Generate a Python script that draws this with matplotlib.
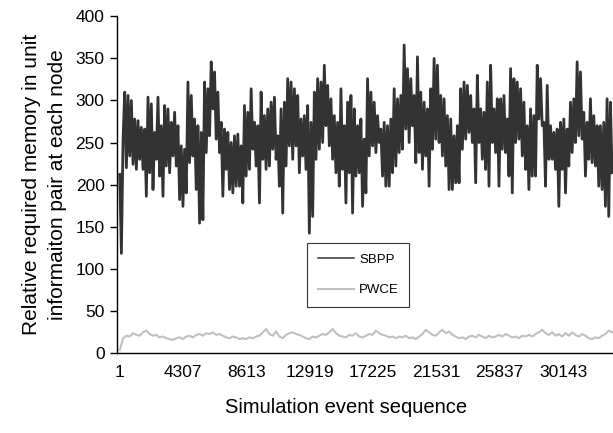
import numpy as np
import matplotlib
matplotlib.use("Agg")
import matplotlib.pyplot as plt

plt.rcParams['font.family'] = ['Liberation Sans', 'DejaVu Sans']

# event count shown on the x axis (category axis like excel)
n_events = 33480
tick_events = [1, 4307, 8613, 12919, 17225, 21531, 25837, 30143]
tick_labels = [str(t) for t in tick_events]

# SBPP as (high, low) pairs, left to right
sbpp_start = [212, 118, 254]
sbpp_pairs = [
    (310, 220), (306, 234), (300, 224), (278, 218), (276, 230), (268, 218), (266, 186), (304, 214),
    (296, 194), (262, 230), (304, 210), (270, 186), (294, 222), (290, 214), (274, 234), (286, 222),
    (270, 182), (246, 174), (242, 190), (322, 226), (306, 234), (278, 194), (270, 154),
    (262, 158), (322, 238), (314, 258), (346, 290), (334, 254), (310, 238), (274, 186), (266, 218),
    (262, 194), (250, 190), (258, 198), (260, 198), (246, 178), (294, 210), (286, 218), (314, 242),
    (274, 222), (270, 178), (310, 230), (282, 218), (290, 222), (298, 242), (304, 230), (258, 198),
    (290, 166),
    (298, 222), (326, 246), (322, 230), (314, 246), (306, 214), (278, 234), (282, 218), (294, 142),
    (274, 162), (310, 230), (326, 242), (322, 250), (342, 270), (318, 246), (302, 230), (282, 214),
    (274, 198), (314, 218), (270, 178), (298, 214), (306, 166), (290, 210), (270, 214), (278, 174),
    (254, 190),
    (326, 234), (310, 246), (298, 238), (282, 250), (266, 210), (274, 198), (270, 198), (278, 214),
    (314, 222), (302, 238), (306, 242), (366, 266), (338, 250), (326, 270), (306, 226), (352, 238),
    (310, 218), (298, 234), (290, 198), (314, 242), (350, 254), (342, 250), (306, 234), (302, 222),
    (282, 194),
    (278, 194), (258, 202), (270, 202), (314, 242), (322, 254), (318, 262), (306, 250), (290, 202),
    (330, 250), (290, 230), (286, 218), (322, 198), (342, 250), (290, 238), (302, 198), (302, 242),
    (306, 238), (278, 210), (338, 190), (326, 250), (322, 254), (314, 234), (298, 218), (270, 194),
    (290, 210),
    (282, 210), (342, 278), (326, 270), (274, 198), (318, 230), (270, 230), (262, 218), (266, 174),
    (274, 218), (278, 190), (266, 222), (298, 238), (302, 250), (346, 258), (334, 254), (286, 210),
    (274, 230), (302, 226), (282, 222), (270, 198), (270, 194), (274, 174), (302, 162), (298, 214),
]

pwce = [3, 17, 20, 19, 23, 21, 20, 24, 26, 22, 20, 21, 18, 19, 17, 16, 15, 17, 18, 16,
        19, 20, 18, 21, 22, 20, 23, 22, 24, 21, 22, 20, 18, 17, 19, 18, 16, 17, 16, 18,
        17, 19, 20, 24, 28, 22, 20, 25, 19, 17, 21, 23, 24, 22, 21, 19, 17, 16, 19, 18,
        20, 22, 21, 24, 28, 23, 20, 19, 18, 21, 20, 23, 19, 18, 20, 22, 21, 26, 23, 21,
        20, 18, 19, 17, 19, 18, 20, 17, 18, 16, 19, 22, 27, 24, 21, 20, 24, 27, 23, 25,
        21, 19, 17, 18, 16, 19, 20, 18, 21, 19, 17, 20, 18, 19, 21, 19, 22, 20, 18, 19,
        17, 20, 19, 21, 19, 22, 24, 27, 23, 21, 24, 20, 22, 19, 23, 20, 24, 21, 19, 22,
        20, 17, 16, 18, 17, 20, 22, 26, 24]

sbpp = list(sbpp_start)
for hi, lo in sbpp_pairs:
    sbpp += [hi, lo]
sbpp = np.array(sbpp)
pwce = np.array(pwce)

x_sbpp = np.linspace(1, n_events, len(sbpp))
x_pwce = np.linspace(1, n_events, len(pwce))

fig = plt.figure(figsize=(6.13, 4.33), dpi=100)
ax = fig.add_axes([0.1909, 0.1859, 0.8091, 0.776])

ax.plot(x_sbpp, sbpp, color='#333333', lw=2.0, label='SBPP')
ax.plot(x_pwce, pwce, color='#c0c0c0', lw=1.5, label='PWCE')

ax.set_xlim(-183, 33543)
ax.set_ylim(0, 400)
ax.set_yticks(np.arange(0, 401, 50))
ax.set_xticks(tick_events)
ax.set_xticklabels(tick_labels)

for s in ['top', 'right']:
    ax.spines[s].set_visible(False)
ax.spines['left'].set_linewidth(1.0)
ax.spines['bottom'].set_linewidth(1.0)
ax.tick_params(axis='y', direction='out', length=5, width=1.0, pad=4, labelsize=12.5)
ax.tick_params(axis='x', length=0, pad=9, labelsize=12.5)

ax.set_xlabel('Simulation event sequence', fontsize=14.5)
ax.xaxis.set_label_coords(0.462, -0.135)
ax.set_ylabel('Relative required memory in unit\ninformaiton pair at each node',
              fontsize=15, labelpad=6, linespacing=1.5)

leg = ax.legend(loc='upper left', bbox_to_anchor=(0.383, 0.326), borderaxespad=0,
                fancybox=False, frameon=True, edgecolor='black', fontsize=9.5,
                handlelength=2.8, handletextpad=0.35, labelspacing=1.4,
                borderpad=0.8)
leg.legend_handles[0].set_linewidth(1.1)
leg.get_frame().set_linewidth(0.8)

fig.savefig('out.png', dpi=100)
